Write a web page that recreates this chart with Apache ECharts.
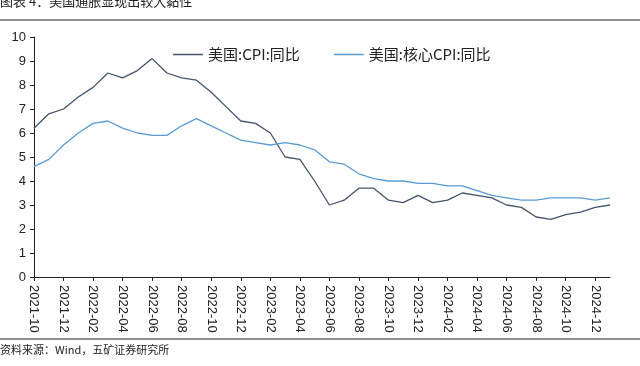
<!DOCTYPE html>
<html>
<head>
<meta charset="utf-8">
<script src="https://cdn.jsdelivr.net/npm/echarts@6/dist/echarts.min.js"></script>
<style>
  html, body { margin: 0; padding: 0; background: #fff; }
  #chart { width: 640px; height: 366px; }
</style>
</head>
<body>
<div id="chart"></div>
<script>
// months 2021-10 .. 2025-01
const months = [];
for (let y = 2021, m = 10; !(y === 2025 && m > 1); m++) {
  if (m > 12) { m = 1; y++; }
  if (y === 2025 && m > 1) break;
  months.push(y + '-' + String(m).padStart(2, '0'));
}

const cpiYoY = [6.2, 6.8, 7.0, 7.5, 7.9, 8.5, 8.3, 8.6, 9.1, 8.5, 8.3, 8.2, 7.7, 7.1, 6.5,
  6.4, 6.0, 5.0, 4.9, 4.0, 3.0, 3.2, 3.7, 3.7, 3.2, 3.1, 3.4,
  3.1, 3.2, 3.5, 3.4, 3.3, 3.0, 2.9, 2.5, 2.4, 2.6, 2.7, 2.9, 3.0];
const coreCpiYoY = [4.6, 4.9, 5.5, 6.0, 6.4, 6.5, 6.2, 6.0, 5.9, 5.9, 6.3, 6.6, 6.3, 6.0, 5.7,
  5.6, 5.5, 5.6, 5.5, 5.3, 4.8, 4.7, 4.3, 4.1, 4.0, 4.0, 3.9,
  3.9, 3.8, 3.8, 3.6, 3.4, 3.3, 3.2, 3.2, 3.3, 3.3, 3.3, 3.2, 3.3];

const seriesNames = ['美国:CPI:同比', '美国:核心CPI:同比'];
const titleText = '图表 4：美国通胀显现出较大黏性';
const sourceText = '资料来源：Wind，五矿证券研究所';

const chart = echarts.init(document.getElementById('chart'));

const options = {
  backgroundColor: '#fff',
  animation: false,
  grid: { left: 34, right: 30, top: 37, bottom: 89, containLabel: false },
  legend: {
    left: 173,
    top: 47,
    padding: 0,
    icon: 'rect',
    itemWidth: 30,
    itemHeight: 1.5,
    itemGap: 34,
    textStyle: { fontSize: 15, color: '#222', fontFamily: 'Noto Sans CJK SC' },
    data: seriesNames
  },
  xAxis: {
    type: 'category',
    data: months,
    boundaryGap: false,
    axisLine: { lineStyle: { color: '#222', width: 1 } },
    axisTick: { interval: 1, length: 4, lineStyle: { color: '#222' } },
    axisLabel: {
      interval: 1,
      rotate: -90,
      color: '#222',
      fontSize: 13,
      fontFamily: 'Liberation Sans',
      margin: 8
    },
    splitLine: { show: false }
  },
  yAxis: {
    type: 'value',
    min: 0,
    max: 10,
    interval: 1,
    axisLine: { show: true, lineStyle: { color: '#222', width: 1 } },
    axisTick: { show: true, length: 4, lineStyle: { color: '#222' } },
    axisLabel: { color: '#222', fontSize: 13, fontFamily: 'Liberation Sans', margin: 8 },
    splitLine: { show: false }
  },
  series: [
    {
      name: seriesNames[0],
      type: 'line',
      data: cpiYoY,
      symbol: 'none',
      lineStyle: { color: '#44546A', width: 1.3 },
      itemStyle: { color: '#44546A' }
    },
    {
      name: seriesNames[1],
      type: 'line',
      data: coreCpiYoY,
      symbol: 'none',
      lineStyle: { color: '#5B9BD5', width: 1.3 },
      itemStyle: { color: '#5B9BD5' }
    }
  ],
  graphic: [
    {
      type: 'text',
      left: 0,
      top: -5,
      style: { text: titleText, fontSize: 13, fill: '#222', fontFamily: 'Noto Sans CJK SC' }
    },
    {
      type: 'line',
      shape: { x1: 0, y1: 20, x2: 640, y2: 20 },
      style: { stroke: '#222', lineWidth: 1.2 }
    },
    {
      type: 'line',
      shape: { x1: 0, y1: 339, x2: 640, y2: 339 },
      style: { stroke: '#222', lineWidth: 1.2 }
    },
    {
      type: 'text',
      left: 0,
      top: 344,
      style: { text: sourceText, fontSize: 11, fill: '#222', fontFamily: 'Noto Sans CJK SC' }
    }
  ]
};

chart.setOption(options);
</script>
</body>
</html>
